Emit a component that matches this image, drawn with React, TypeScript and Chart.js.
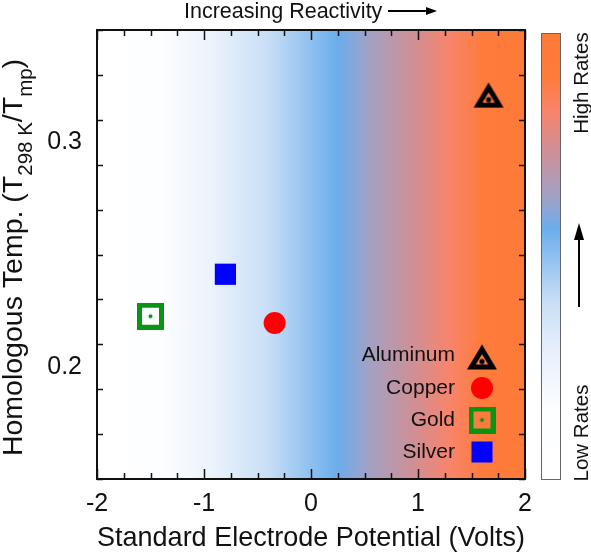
import React, { useEffect, useRef } from 'react';
import { Chart, registerables } from 'chart.js';
Chart.register(...registerables);

const FONT = "'Liberation Sans', Arial, Helvetica, sans-serif";

// ---- data ----
const materials = ['Aluminum', 'Copper', 'Gold', 'Silver'];
const electrodePotential = [1.66, -0.34, -1.5, -0.8];
const homologousTemp = [0.321, 0.2195, 0.2225, 0.2412];
const markerColors = ['#000000', '#ff0000', '#0a9414', '#0000ff'];

// ---- axes ----
const xMajorTicks = [-2, -1, 0, 1, 2];
const yMajorTicks = [0.2, 0.3];
const xMinorStep = 0.25;
const yMinorStep = 0.02;

// ---- colour map (value on x axis -> colour) ----
const gradientValues = [-2, -1.4, -0.9, -0.4, 0.25, 0.55, 0.95, 1.3, 1.6, 2];
const gradientColors = ['#ffffff', '#fdfeff', '#eaf2fc', '#c8def6', '#6badec', '#a3a1c4', '#cf8f96', '#f8846a', '#fd7b3c', '#fd7a38'];

function makeTriangle(): HTMLCanvasElement {
  const c = document.createElement('canvas');
  c.width = 32; c.height = 27;
  const g = c.getContext('2d')!;
  g.fillStyle = '#000';
  g.beginPath(); g.moveTo(16, 1); g.lineTo(31, 26); g.lineTo(1, 26); g.closePath(); g.fill();
  g.globalCompositeOperation = 'destination-out';
  g.beginPath(); g.moveTo(16, 10.7); g.lineTo(22.2, 21); g.lineTo(9.8, 21); g.closePath(); g.fill();
  g.globalCompositeOperation = 'source-over';
  g.beginPath(); g.arc(16, 18, 2.6, 0, Math.PI * 2); g.fill();
  return c;
}

function makeGoldSquare(): HTMLCanvasElement {
  const c = document.createElement('canvas');
  c.width = 27; c.height = 27;
  const g = c.getContext('2d')!;
  g.strokeStyle = '#0a9414';
  g.lineWidth = 5;
  g.strokeRect(2.5, 2.5, 22, 22);
  g.fillStyle = '#0a9414';
  g.beginPath(); g.arc(13.5, 13.5, 2, 0, Math.PI * 2); g.fill();
  return c;
}

function drawArrow(ctx: CanvasRenderingContext2D, x1: number, y1: number, x2: number, y2: number, head: number, half: number) {
  const ang = Math.atan2(y2 - y1, x2 - x1);
  ctx.save();
  ctx.strokeStyle = '#000';
  ctx.fillStyle = '#000';
  ctx.lineWidth = 2;
  ctx.beginPath();
  ctx.moveTo(x1, y1);
  ctx.lineTo(x2 - Math.cos(ang) * head * 0.8, y2 - Math.sin(ang) * head * 0.8);
  ctx.stroke();
  ctx.translate(x2, y2);
  ctx.rotate(ang);
  ctx.beginPath();
  ctx.moveTo(0, 0);
  ctx.lineTo(-head, -half);
  ctx.lineTo(-head, half);
  ctx.closePath();
  ctx.fill();
  ctx.restore();
}

export default function App() {
  const ref = useRef<HTMLCanvasElement | null>(null);

  useEffect(() => {
    document.body.style.margin = '0';
    const canvas = ref.current!;
    const tri = makeTriangle();
    const gold = makeGoldSquare();
    const pointStyles: any[] = [tri, 'circle', gold, 'rect'];
    const radii = [12, 11, 13, 15];

    const decor = {
      id: 'decor',
      beforeDatasetsDraw(chart: any) {
        const { ctx, chartArea: a, scales } = chart;
        const xs = scales.x;
        const x0 = xs.getPixelForValue(gradientValues[0]);
        const x1 = xs.getPixelForValue(gradientValues[gradientValues.length - 1]);
        const grad = ctx.createLinearGradient(x0, 0, x1, 0);
        gradientValues.forEach((v, i) => {
          grad.addColorStop((xs.getPixelForValue(v) - x0) / (x1 - x0), gradientColors[i]);
        });
        ctx.save();
        ctx.fillStyle = grad;
        ctx.fillRect(a.left, a.top, a.right - a.left, a.bottom - a.top);
        ctx.restore();
      },
      afterDatasetsDraw(chart: any) {
        const { ctx, chartArea: a, scales } = chart;
        const xs = scales.x, ys = scales.y;
        ctx.save();
        // frame
        ctx.strokeStyle = '#111';
        ctx.lineWidth = 2;
        ctx.strokeRect(a.left, a.top, a.right - a.left, a.bottom - a.top);
        // ticks
        ctx.lineWidth = 1.5;
        ctx.beginPath();
        const isMajor = (v: number, arr: number[]) => arr.some((m) => Math.abs(m - v) < 1e-6);
        for (let v = xs.min; v <= xs.max + 1e-9; v += xMinorStep) {
          const len = isMajor(v, xMajorTicks) ? 10 : 6;
          const p = Math.round(xs.getPixelForValue(v)) + 0.5;
          ctx.moveTo(p, a.bottom); ctx.lineTo(p, a.bottom - len);
          ctx.moveTo(p, a.top); ctx.lineTo(p, a.top + len);
        }
        for (let v = ys.min; v <= ys.max + 1e-9; v += yMinorStep) {
          const len = isMajor(v, yMajorTicks) ? 10 : 6;
          const p = Math.round(ys.getPixelForValue(v)) + 0.5;
          ctx.moveTo(a.left, p); ctx.lineTo(a.left + len, p);
          ctx.moveTo(a.right, p); ctx.lineTo(a.right - len, p);
        }
        ctx.stroke();

        // legend
        ctx.font = `21px ${FONT}`;
        ctx.fillStyle = '#111';
        ctx.textAlign = 'right';
        ctx.textBaseline = 'middle';
        const rowY = [a.bottom - 124, a.bottom - 91, a.bottom - 59, a.bottom - 27];
        const tx = a.right - 70;
        const mx = a.right - 43;
        materials.forEach((m, i) => {
          ctx.fillStyle = '#111';
          ctx.fillText(m, tx, rowY[i]);
          const st = pointStyles[i];
          const my = rowY[i] + (i === 0 ? 2 : 0);
          if (st === 'circle') {
            ctx.fillStyle = markerColors[i];
            ctx.beginPath(); ctx.arc(mx, my, 11, 0, Math.PI * 2); ctx.fill();
          } else if (st === 'rect') {
            ctx.fillStyle = markerColors[i];
            ctx.fillRect(mx - 10.5, my - 10.5, 21, 21);
          } else {
            ctx.drawImage(st, mx - st.width / 2, my - st.height / 2);
          }
        });

        // colour bar
        const cbL = a.right + 16, cbW = 20, cbT = a.top + 3, cbB = a.bottom + 1;
        const vg = ctx.createLinearGradient(0, cbB, 0, cbT);
        const vMin = gradientValues[0], vMax = gradientValues[gradientValues.length - 1];
        gradientValues.forEach((v, i) => vg.addColorStop((v - vMin) / (vMax - vMin), gradientColors[i]));
        ctx.fillStyle = vg;
        ctx.fillRect(cbL, cbT, cbW, cbB - cbT);
        ctx.strokeStyle = '#666';
        ctx.lineWidth = 1;
        ctx.strokeRect(cbL + 0.5, cbT + 0.5, cbW - 1, cbB - cbT - 1);

        ctx.fillStyle = '#111';
        ctx.font = `20.5px ${FONT}`;
        ctx.textAlign = 'center';
        ctx.textBaseline = 'middle';
        const lx = cbL + 41;
        ctx.save(); ctx.translate(lx, cbT + 50); ctx.rotate(-Math.PI / 2); ctx.fillText('High Rates', 0, 0); ctx.restore();
        ctx.save(); ctx.translate(lx, cbB - 47); ctx.rotate(-Math.PI / 2); ctx.fillText('Low Rates', 0, 0); ctx.restore();
        drawArrow(ctx, lx - 3, 307, lx - 3, 223, 17, 5);

        // top annotation
        ctx.font = `21.5px ${FONT}`;
        ctx.textAlign = 'left';
        ctx.textBaseline = 'alphabetic';
        ctx.fillText('Increasing Reactivity', 184, 18);
        drawArrow(ctx, 388, 11, 437, 11, 11, 4);

        // y axis title with subscripts
        const main = `28.5px ${FONT}`, sub = `20.5px ${FONT}`;
        const parts: [string, boolean][] = [
          ['Homologous Temp. (T', false], ['298 K', true], ['/T', false], ['mp', true], [')', false],
        ];
        let total = 0;
        parts.forEach(([t, s]) => { ctx.font = s ? sub : main; total += ctx.measureText(t).width; });
        const cy = (a.top + a.bottom) / 2 + 3;
        ctx.save();
        ctx.translate(22, cy);
        ctx.rotate(-Math.PI / 2);
        let px = -total / 2;
        parts.forEach(([t, s]) => {
          ctx.font = s ? sub : main;
          ctx.fillText(t, px, s ? 10 : 0);
          px += ctx.measureText(t).width;
        });
        ctx.restore();

        ctx.restore();
      },
    };

    const chart = new Chart(canvas, {
      type: 'scatter',
      data: {
        datasets: materials.map((m, i) => ({
          label: m,
          data: [{ x: electrodePotential[i], y: homologousTemp[i] }],
          pointStyle: pointStyles[i],
          pointRadius: radii[i],
          pointHoverRadius: radii[i],
          backgroundColor: markerColors[i],
          borderColor: markerColors[i],
          borderWidth: 0,
        })),
      },
      options: {
        responsive: false,
        animation: false,
        events: [],
        layout: { padding: { left: 0, top: 29, right: 66, bottom: 0 } },
        plugins: { legend: { display: false }, tooltip: { enabled: false } },
        scales: {
          x: {
            type: 'linear',
            min: -2,
            max: 2,
            grid: { display: false, drawTicks: false },
            border: { display: false },
            afterBuildTicks: (s: any) => { s.ticks = xMajorTicks.map((v) => ({ value: v })); },
            afterFit: (s: any) => { s.height = 76; },
            ticks: { font: { family: FONT, size: 25 }, color: '#111', padding: 10, maxRotation: 0 },
            title: {
              display: true,
              text: 'Standard Electrode Potential (Volts)',
              font: { family: FONT, size: 27.5 },
              color: '#111',
              padding: { top: 0, bottom: 0 },
            },
          },
          y: {
            type: 'linear',
            min: 0.15,
            max: 0.35,
            grid: { display: false, drawTicks: false },
            border: { display: false },
            afterBuildTicks: (s: any) => { s.ticks = yMajorTicks.map((v) => ({ value: v })); },
            afterFit: (s: any) => { s.width = 97; },
            ticks: { font: { family: FONT, size: 25 }, color: '#111', padding: 15, callback: (v: any) => Number(v).toFixed(1) },
          },
        },
      },
      plugins: [decor],
    });
    return () => chart.destroy();
  }, []);

  return (
    <canvas
      ref={ref}
      width={591}
      height={555}
      style={{ display: 'block', position: 'fixed', left: 0, top: 0, width: 591, height: 555 }}
    />
  );
}
